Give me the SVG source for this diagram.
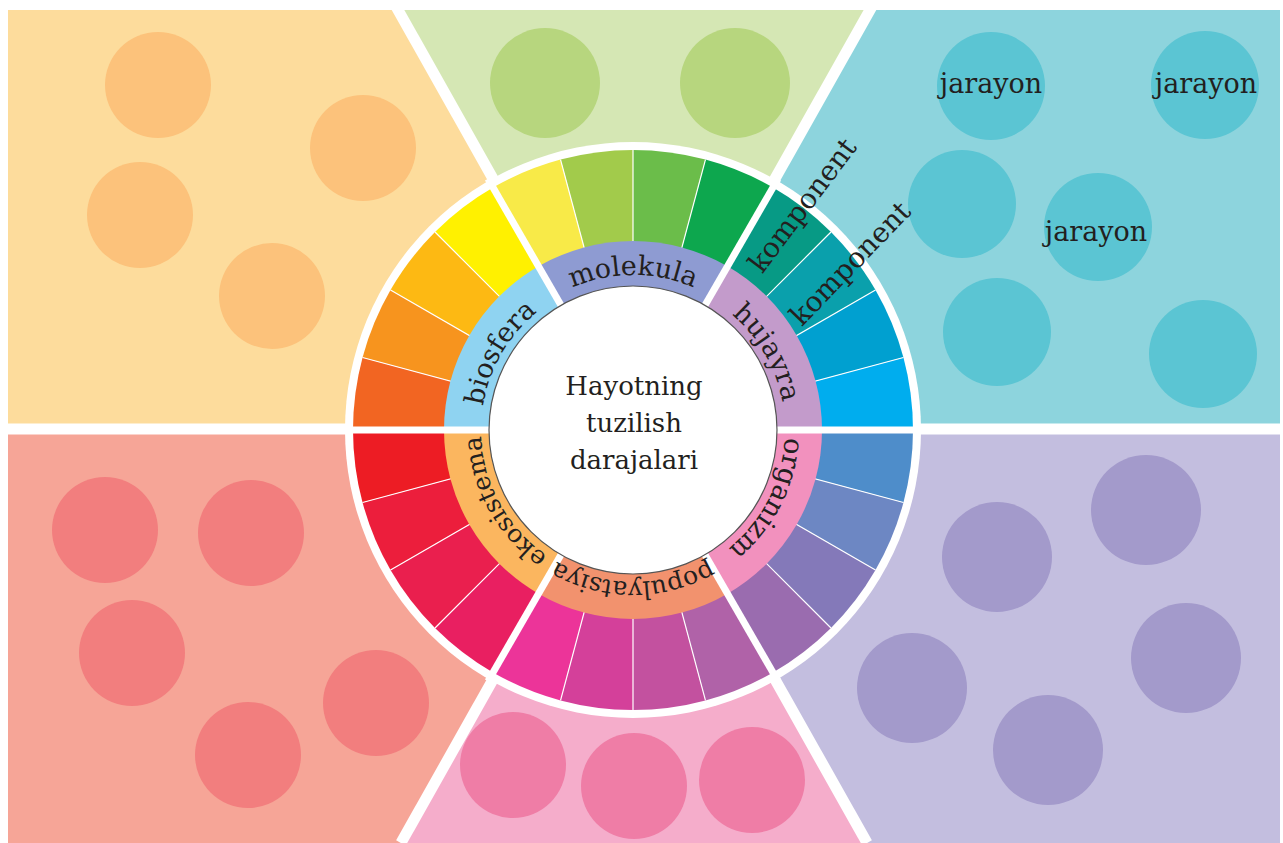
<svg xmlns="http://www.w3.org/2000/svg" width="1283" height="843" viewBox="0 0 1283 843">
<defs>
<clipPath id="frame"><rect x="8" y="10" width="1272" height="833"/></clipPath>
<path id="p-molekula" d="M501.37,351 A152,152 0 0 1 764.63,351"/>
<path id="p-biosfera" d="M501.37,506 A152,152 0 0 1 633,278"/>
<path id="p-hujayra" d="M633,278 A152,152 0 0 1 764.63,506"/>
<path id="p-organizm" d="M760.48,347.21 A152,152 0 0 1 640.95,581.79"/>
<path id="p-populyatsiya" d="M764.63,506 A152,152 0 0 1 501.37,506"/>
<path id="p-ekosistema" d="M630.35,581.98 A152,152 0 0 1 502.71,351.71"/>
</defs>
<style>
.t{font-family:"DejaVu Serif","Liberation Serif",serif;fill:#231F20;}
.lbl{font-size:27px;}
.sm{font-size:25px;}
.kom{font-size:28px;}
.jar{font-size:27px;text-anchor:middle;}
.ctr{font-size:26px;text-anchor:middle;}
.gap{stroke:#fff;stroke-width:11;}
.wgap{stroke:#fff;stroke-width:7;}
.thin{stroke:#fff;stroke-width:1.2;}
</style>
<rect width="1283" height="843" fill="#fff"/>
<g id="panels" clip-path="url(#frame)">
<g id="panel-biosfera">
<polygon points="634,429 392.4,0 0,0 0,429" fill="#FDDC9C"/>
<g fill="#FCC27B"><circle cx="158" cy="85" r="53"/><circle cx="363" cy="148" r="53"/><circle cx="140" cy="215" r="53"/><circle cx="272" cy="296" r="53"/></g>
</g>
<g id="panel-molekula">
<polygon points="634,429 392.4,0 875.6,0" fill="#D5E7B4"/>
<g fill="#B7D67E"><circle cx="545" cy="83" r="55"/><circle cx="735" cy="83" r="55"/></g>
</g>
<g id="panel-hujayra">
<polygon points="634,429 875.6,0 1283,0 1283,429" fill="#8DD4DD"/>
<g fill="#5BC5D3"><circle cx="991" cy="86" r="54"/><circle cx="1205" cy="85" r="54"/><circle cx="962" cy="204" r="54"/><circle cx="1098" cy="227" r="54"/><circle cx="997" cy="332" r="54"/><circle cx="1203" cy="354" r="54"/></g>
</g>
<g id="panel-organizm">
<polygon points="634,429 1283,429 1283,843 867.1,843" fill="#C3BEDF"/>
<g fill="#A39ACB"><circle cx="1146" cy="510" r="55"/><circle cx="997" cy="557" r="55"/><circle cx="1186" cy="658" r="55"/><circle cx="912" cy="688" r="55"/><circle cx="1048" cy="750" r="55"/></g>
</g>
<g id="panel-populyatsiya">
<polygon points="634,429 867.1,843 400.9,843" fill="#F5ADCB"/>
<g fill="#EF7DA6"><circle cx="513" cy="765" r="53"/><circle cx="634" cy="786" r="53"/><circle cx="752" cy="780" r="53"/></g>
</g>
<g id="panel-ekosistema">
<polygon points="634,429 400.9,843 0,843 0,429" fill="#F6A597"/>
<g fill="#F27E7E"><circle cx="105" cy="530" r="53"/><circle cx="251" cy="533" r="53"/><circle cx="132" cy="653" r="53"/><circle cx="376" cy="703" r="53"/><circle cx="248" cy="755" r="53"/></g>
</g>
</g>
<g id="connectors">
<line class="gap" x1="0" y1="429" x2="1283" y2="429"/>
<line class="gap" x1="392.4" y1="0" x2="867.1" y2="843"/>
<line class="gap" x1="875.6" y1="0" x2="400.9" y2="843"/>
</g>
<g id="wheel">
<circle cx="633" cy="430" r="288" fill="#fff"/>
<g id="wedges">
<path d="M633,430 L913,430 A280,280 0 0 0 903.46,357.53 Z" fill="#00ADEE"/>
<path d="M633,430 L903.46,357.53 A280,280 0 0 0 875.49,290 Z" fill="#00A0D0"/>
<path d="M633,430 L875.49,290 A280,280 0 0 0 830.99,232.01 Z" fill="#0AA0AC"/>
<path d="M633,430 L830.99,232.01 A280,280 0 0 0 773,187.51 Z" fill="#079A85"/>
<path d="M633,430 L773,187.51 A280,280 0 0 0 705.47,159.54 Z" fill="#0DA74E"/>
<path d="M633,430 L705.47,159.54 A280,280 0 0 0 633,150 Z" fill="#6BBD4A"/>
<path d="M633,430 L633,150 A280,280 0 0 0 560.53,159.54 Z" fill="#A2CB4B"/>
<path d="M633,430 L560.53,159.54 A280,280 0 0 0 493,187.51 Z" fill="#F8EA48"/>
<path d="M633,430 L493,187.51 A280,280 0 0 0 435.01,232.01 Z" fill="#FFF100"/>
<path d="M633,430 L435.01,232.01 A280,280 0 0 0 390.51,290 Z" fill="#FDB913"/>
<path d="M633,430 L390.51,290 A280,280 0 0 0 362.54,357.53 Z" fill="#F7941E"/>
<path d="M633,430 L362.54,357.53 A280,280 0 0 0 353,430 Z" fill="#F26522"/>
<path d="M633,430 L353,430 A280,280 0 0 0 362.54,502.47 Z" fill="#ED1C24"/>
<path d="M633,430 L362.54,502.47 A280,280 0 0 0 390.51,570 Z" fill="#EC1E3C"/>
<path d="M633,430 L390.51,570 A280,280 0 0 0 435.01,627.99 Z" fill="#EA1F4E"/>
<path d="M633,430 L435.01,627.99 A280,280 0 0 0 493,672.49 Z" fill="#E91F61"/>
<path d="M633,430 L493,672.49 A280,280 0 0 0 560.53,700.46 Z" fill="#EC3499"/>
<path d="M633,430 L560.53,700.46 A280,280 0 0 0 633,710 Z" fill="#D4409A"/>
<path d="M633,430 L633,710 A280,280 0 0 0 705.47,700.46 Z" fill="#C3519F"/>
<path d="M633,430 L705.47,700.46 A280,280 0 0 0 773,672.49 Z" fill="#B062A8"/>
<path d="M633,430 L773,672.49 A280,280 0 0 0 830.99,627.99 Z" fill="#9A6CAF"/>
<path d="M633,430 L830.99,627.99 A280,280 0 0 0 875.49,570 Z" fill="#8479B9"/>
<path d="M633,430 L875.49,570 A280,280 0 0 0 903.46,502.47 Z" fill="#6D87C3"/>
<path d="M633,430 L903.46,502.47 A280,280 0 0 0 913,430 Z" fill="#4E8DCA"/>
</g>
<g id="thin-lines" class="thin">
<line x1="903.46" y1="357.53" x2="362.54" y2="502.47"/>
<line x1="875.49" y1="290" x2="390.51" y2="570"/>
<line x1="830.99" y1="232.01" x2="435.01" y2="627.99"/>
<line x1="705.47" y1="159.54" x2="560.53" y2="700.46"/>
<line x1="633" y1="150" x2="633" y2="710"/>
<line x1="560.53" y1="159.54" x2="705.47" y2="700.46"/>
<line x1="435.01" y1="232.01" x2="830.99" y2="627.99"/>
<line x1="390.51" y1="290" x2="875.49" y2="570"/>
<line x1="362.54" y1="357.53" x2="903.46" y2="502.47"/>
</g>
<g id="label-ring">
<path d="M633,430 L822,430 A189,189 0 0 0 727.5,266.32 Z" fill="#C39BCB"/>
<path d="M633,430 L727.5,266.32 A189,189 0 0 0 538.5,266.32 Z" fill="#8E9BD2"/>
<path d="M633,430 L538.5,266.32 A189,189 0 0 0 444,430 Z" fill="#8FD3F1"/>
<path d="M633,430 L444,430 A189,189 0 0 0 538.5,593.68 Z" fill="#FBB65F"/>
<path d="M633,430 L538.5,593.68 A189,189 0 0 0 727.5,593.68 Z" fill="#F2926E"/>
<path d="M633,430 L727.5,593.68 A189,189 0 0 0 822,430 Z" fill="#F291BE"/>
</g>
<g id="wheel-gaps" class="wgap">
<line x1="343" y1="430" x2="923" y2="430"/>
<line x1="778" y1="178.85" x2="488" y2="681.15"/>
<line x1="488" y1="178.85" x2="778" y2="681.15"/>
</g>
<g id="center">
<circle cx="633" cy="430" r="144" fill="#fff" stroke="#555" stroke-width="1.2"/>
<text class="t ctr" x="634" y="395">Hayotning</text>
<text class="t ctr" x="634" y="432">tuzilish</text>
<text class="t ctr" x="634" y="469">darajalari</text>
</g>
<g id="level-labels" class="t lbl" text-anchor="middle">
<text><textPath href="#p-molekula" startOffset="50%">molekula</textPath></text>
<text><textPath href="#p-biosfera" startOffset="50%">biosfera</textPath></text>
<text><textPath href="#p-hujayra" startOffset="50%">hujayra</textPath></text>
<text><textPath href="#p-organizm" startOffset="50%">organizm</textPath></text>
<text class="sm"><textPath href="#p-populyatsiya" startOffset="50%">populyatsiya</textPath></text>
<text class="sm"><textPath href="#p-ekosistema" startOffset="50%">ekosistema</textPath></text>
</g>
<g id="komponent-labels" class="t kom" text-anchor="middle">
<text transform="translate(810,211) rotate(-53)">komponent</text>
<text transform="translate(857,270) rotate(-46)">komponent</text>
</g>
</g>
<g id="jarayon-labels">
<text class="t jar" x="991" y="93">jarayon</text>
<text class="t jar" x="1206" y="93">jarayon</text>
<text class="t jar" x="1096" y="241">jarayon</text>
</g>
</svg>
